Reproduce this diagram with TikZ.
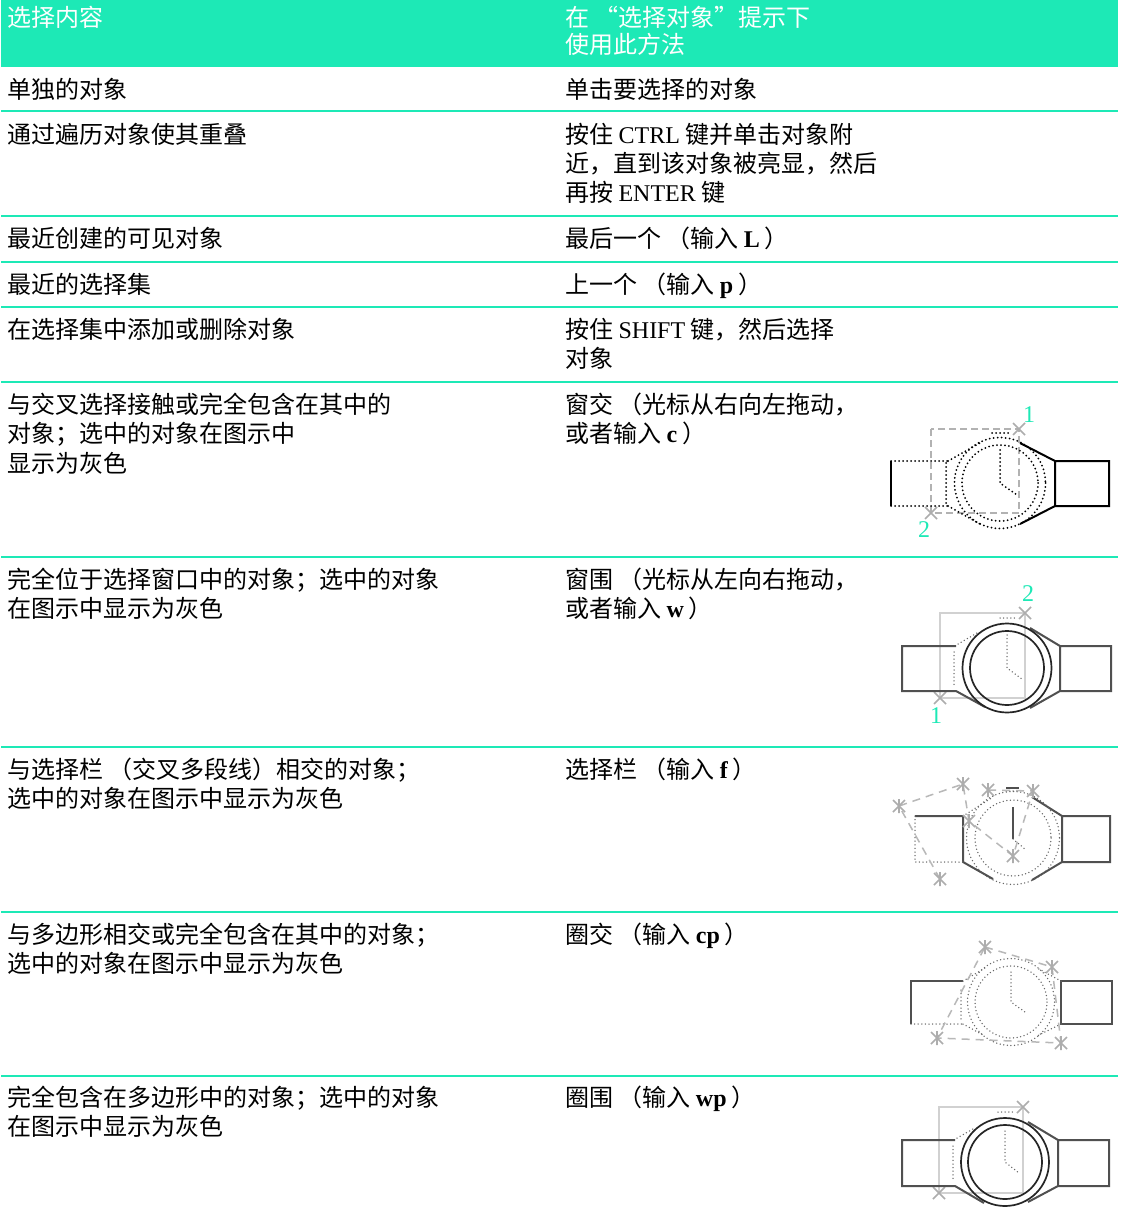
\documentclass[tikz,border=0pt]{standalone}
\usepackage{fontspec}
\setmainfont{Liberation Serif}
\newfontfamily\cjk{Noto Sans CJK SC}
\definecolor{mint}{HTML}{1DE9B6}
\definecolor{strapc}{HTML}{505050}
\newcommand{\rp}{\kern5pt）}
\tikzset{
  x=1pt,y=-1pt,
  cell/.style={anchor=north west,inner sep=0pt,align=left,font=\fontsize{24}{29.2}\selectfont\cjk},
  headcell/.style={anchor=north west,inner sep=0pt,align=left,text=white,font=\fontsize{24}{27}\selectfont\cjk},
  rulex/.style={draw=mint,line width=1.4pt},
  solidk/.style={draw=black!85,line width=1.7pt},
  heavy/.style={draw=black,line width=2pt},
  strapk/.style={draw=strapc,line width=2pt},
  dotk/.style={draw=black,line width=2pt,line cap=round,dash pattern=on 0pt off 4pt},
  dotg/.style={draw=black!60,line width=1.5pt,line cap=round,dash pattern=on 0pt off 3.6pt},
  win/.style={draw=black!30,line width=1.6pt,dash pattern=on 7pt off 4pt},
  winsolid/.style={draw=black!18,line width=2.6pt},
  fence/.style={draw=black!28,line width=1.5pt,dash pattern=on 8pt off 6pt},
  crossk/.style={draw=black!32,line width=1.7pt},
  num/.style={inner sep=0pt,text=mint,font=\fontsize{24}{24}\selectfont},
}
\newcommand{\xm}[2]{\draw[crossk] (#1-6,#2-6)--(#1+6,#2+6) (#1-6,#2+6)--(#1+6,#2-6);}
\newcommand{\astk}[2]{\draw[crossk] (#1-6,#2-6)--(#1+6,#2+6) (#1-6,#2+6)--(#1+6,#2-6) (#1,#2-7)--(#1,#2+7);}
\begin{document}
\begin{tikzpicture}
\useasboundingbox (0,0) rectangle (1125,1229);
\fill[white] (0,0) rectangle (1125,1229);
\fill[mint] (1,0) rectangle (1118,67);
\foreach \y in {111,216,262,307,382,557,747,912,1076}{\draw[rulex] (1,\y)--(1118,\y);}

\node[headcell] (h1) at (7,6) {选择内容};
\node[headcell] (h2) at (565,6) {在 “选择对象”提示下\\使用此方法};

\node[cell] (a1) at (7,78) {单独的对象};
\node[cell] (b1) at (565,78) {单击要选择的对象};
\node[cell] (a2) at (7,123) {通过遍历对象使其重叠};
\node[cell] (b2) at (565,123) {按住 {\rmfamily CTRL} 键并单击对象附\\近，直到该对象被亮显，然后\\再按 {\rmfamily ENTER} 键};
\node[cell] (a3) at (7,227) {最近创建的可见对象};
\node[cell] (b3) at (565,227) {最后一个 （输入 {\rmfamily\bfseries L}\rp};
\node[cell] (a4) at (7,273) {最近的选择集};
\node[cell] (b4) at (565,273) {上一个 （输入 {\rmfamily\bfseries p}\rp};
\node[cell] (a5) at (7,318) {在选择集中添加或删除对象};
\node[cell] (b5) at (565,318) {按住 {\rmfamily SHIFT} 键，然后选择\\对象};
\node[cell] (a6) at (7,393) {与交叉选择接触或完全包含在其中的\\对象；选中的对象在图示中\\显示为灰色};
\node[cell] (b6) at (565,393) {窗交 （光标从右向左拖动，\\或者输入 {\rmfamily\bfseries c}\rp};
\node[cell] (a7) at (7,568) {完全位于选择窗口中的对象；选中的对象\\在图示中显示为灰色};
\node[cell] (b7) at (565,568) {窗围 （光标从左向右拖动，\\或者输入 {\rmfamily\bfseries w}\rp};
\node[cell] (a8) at (7,758) {与选择栏 （交叉多段线）相交的对象；\\选中的对象在图示中显示为灰色};
\node[cell] (b8) at (565,758) {选择栏 （输入 {\rmfamily\bfseries f}\rp};
\node[cell] (a9) at (7,923) {与多边形相交或完全包含在其中的对象；\\选中的对象在图示中显示为灰色};
\node[cell] (b9) at (565,923) {圈交 （输入 {\rmfamily\bfseries cp}\rp};
\node[cell] (a10) at (7,1086) {完全包含在多边形中的对象；选中的对象\\在图示中显示为灰色};
\node[cell] (b10) at (565,1086) {圈围 （输入 {\rmfamily\bfseries wp}\rp};

% watch 1
\draw[win] (931,429) rectangle (1019,513);
\xm{1019}{429}\xm{931}{513}
\draw[heavy] (891,461)--(891,506);
\draw[dotk] (891,461)--(948,461) (891,506)--(948,506) (946,463)--(946,504);
\draw[dotk] (948,461)--(980,443) (948,506)--(980,524);
\draw[dotk] (1000,483) circle[radius=45.5] (1000,483) circle[radius=38];
\draw[dotk] (992,433)--(1008,433);
\draw[dotk] (1000,450)--(1000,483)--(1017,495);
\draw[heavy] (1020,443)--(1055,461)--(1109,461)--(1109,506)--(1055,506)--(1020,524) (1055,461)--(1055,506);
\node[num] (n11) at (1029,415) {1};
\node[num] (n12) at (924,530) {2};

% watch 2
\draw[winsolid] (940,613) rectangle (1025,698);
\xm{1025}{613}\xm{940}{698}
\draw[strapk] (956,646)--(902,646)--(902,691)--(956,691)--(985,707);
\draw[strapk] (1030,628)--(1060,646)--(1111,646)--(1111,691)--(1060,691)--(1030,708) (1060,646)--(1060,691);
\draw[dotg] (958,644)--(977,633) (954,652)--(954,685) (1000,618)--(1015,618);
\draw[dotg] (1007,635)--(1007,668)--(1022,679);
\draw[solidk] (1007,668) circle[radius=44.5] (1007,668) circle[radius=37];
\node[num] (n21) at (1028,594) {2};
\node[num] (n22) at (936,716) {1};

% watch 3
\draw[strapk] (915,816)--(963,816)--(963,862)--(993,879);
\draw[strapk] (1032,797)--(1062,816)--(1110,816)--(1110,862)--(1062,862)--(1032,880) (1062,816)--(1062,862);
\draw[dotg] (915,816)--(915,862)--(963,862) (963,816)--(993,797);
\draw[dotg] (1013,838) circle[radius=46.5] (1013,838) circle[radius=38];
\draw[strapk] (1006,788)--(1019,788) (1013,807)--(1013,839);
\draw[dotg] (1006,791)--(1019,791) (1013,839)--(1026,850);
\draw[fence] (940,879)--(899,806)--(963,784)--(969,821)--(1013,856)--(1033,791)--(988,790);
\astk{899}{806}\astk{963}{784}\astk{969}{821}\astk{1013}{856}\astk{1033}{791}\astk{988}{790}\astk{940}{879}

% watch 4
\draw[strapk] (963,981)--(911,981)--(911,1024);
\draw[strapk] (1061,981)--(1112,981)--(1112,1024)--(1061,1024)--cycle;
\draw[dotg] (911,1024)--(963,1024) (961,990)--(961,1020) (963,981)--(985,968) (963,1024)--(985,1036) (1061,981)--(1037,968) (1061,1024)--(1037,1036);
\draw[dotg] (1011,1002) circle[radius=43.5] (1011,1002) circle[radius=36];
\draw[dotg] (1011,972)--(1011,1002)--(1025,1012);
\draw[fence] (985,947)--(1052,967)--(1061,1043)--(937,1038)--cycle;
\astk{985}{947}\astk{1052}{967}\astk{1061}{1043}\astk{937}{1038}

% watch 5
\draw[winsolid] (939,1107) rectangle (1023,1193);
\xm{1023}{1107}\xm{939}{1193}
\draw[strapk] (955,1140)--(902,1140)--(902,1186)--(955,1186)--(984,1203);
\draw[strapk] (1028,1122)--(1058,1140)--(1109,1140)--(1109,1186)--(1058,1186)--(1028,1202) (1058,1140)--(1058,1186);
\draw[dotg] (957,1138)--(973,1129) (953,1146)--(953,1180) (998,1112)--(1013,1112);
\draw[dotg] (1005,1131)--(1005,1162)--(1019,1173);
\draw[solidk] (1005,1162) circle[radius=44] (1005,1162) circle[radius=37];
\end{tikzpicture}
\end{document}
